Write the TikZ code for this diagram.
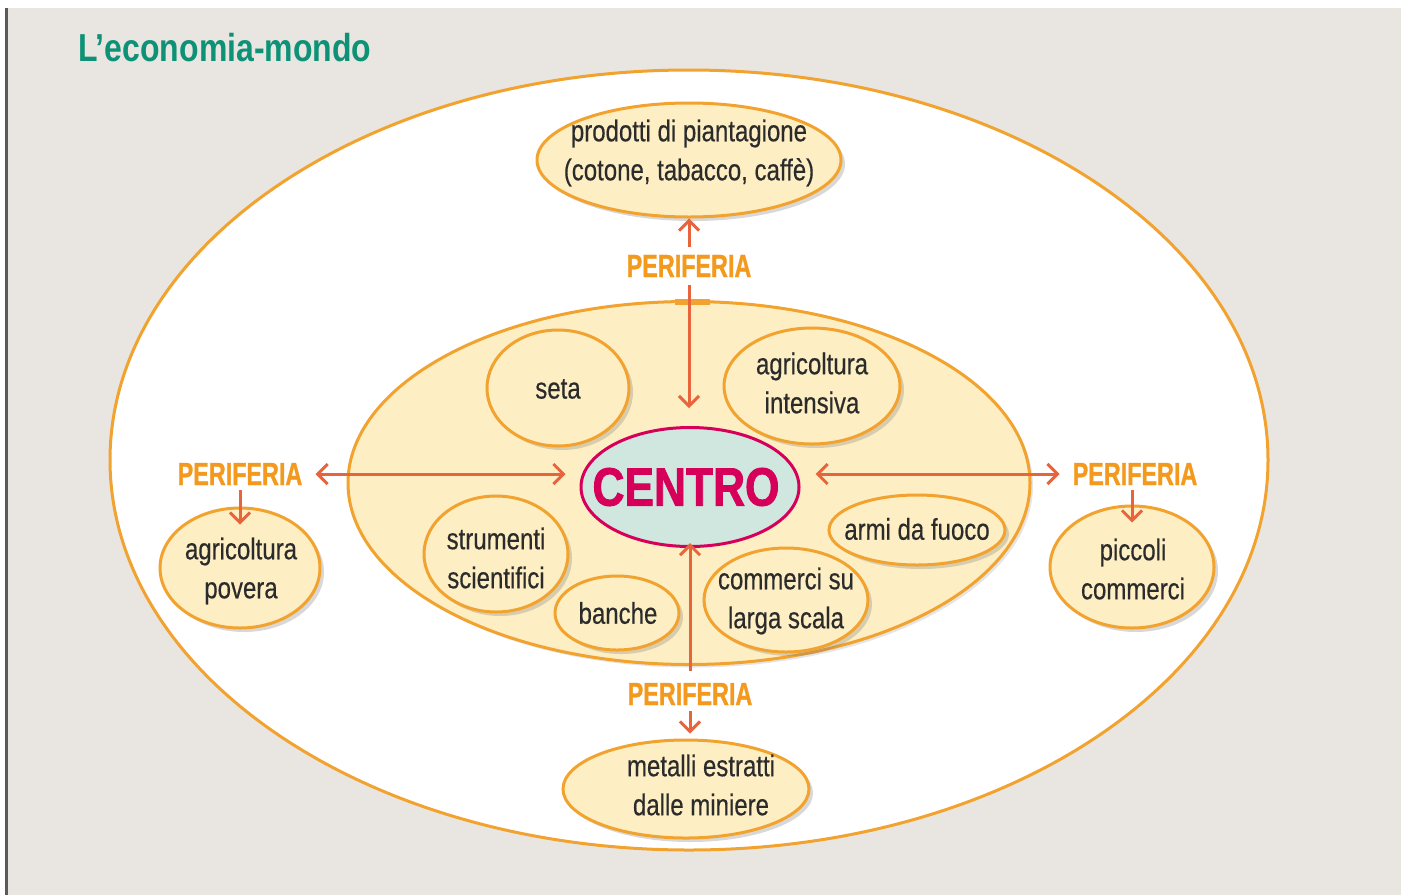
\documentclass[tikz,border=0pt]{standalone}
\usepackage{fontspec}
\setmainfont{Liberation Sans}
\newfontfamily\condf[FakeStretch=0.8,FakeBold=0.4]{Liberation Sans}
\newfontfamily\perf[FakeStretch=0.73,FakeBold=1]{Liberation Sans Bold}
\newfontfamily\titf[FakeStretch=0.82]{Liberation Sans Bold}
\newfontfamily\cenf[FakeStretch=0.82,FakeBold=1.5]{Liberation Sans Bold}
\usetikzlibrary{shapes.geometric,shadows,arrows.meta}
\definecolor{panelgrey}{HTML}{E9E6E1}
\definecolor{edgegrey}{HTML}{5A5A5A}
\definecolor{ringorange}{HTML}{F2A22E}
\definecolor{paleyellow}{HTML}{FDEFC3}
\definecolor{arrowred}{HTML}{E8643C}
\definecolor{perorange}{HTML}{F39A1E}
\definecolor{centrored}{HTML}{D6005A}
\definecolor{centrofill}{HTML}{CFE7DF}
\definecolor{titlegreen}{HTML}{0E9277}
\definecolor{textdark}{HTML}{2B2B2B}
\tikzset{
  bubble/.style={ellipse, draw=ringorange, line width=3pt, fill=paleyellow, inner sep=0pt,
    drop shadow={opacity=0.3, shadow xshift=4pt, shadow yshift=-4pt}},
  btext/.style={align=center, text=textdark, font=\condf\fontsize{30}{39}\selectfont, inner sep=0pt},
  perlabel/.style={text=perorange, font=\perf\fontsize{32}{32}\selectfont, inner sep=0pt},
  arr/.style={draw=arrowred, line width=3pt, -{Straight Barb[length=10pt,width=20pt,line width=3pt]}},
  darr/.style={draw=arrowred, line width=3pt, {Straight Barb[length=10pt,width=20pt,line width=3pt]}-{Straight Barb[length=10pt,width=20pt,line width=3pt]}}
}
\begin{document}
\begin{tikzpicture}[x=1pt,y=-1pt]
\useasboundingbox (0,0) rectangle (1405,895);
\fill[white] (0,0) rectangle (1405,895);
\fill[panelgrey] (7,8) rectangle (1401,895);
\fill[edgegrey] (5,8) rectangle (8,895);
\node[anchor=west, text=titlegreen, font=\titf\fontsize{39}{39}\selectfont, inner sep=0pt] (title) at (78,48) {L’economia-mondo};
% outer and inner rings
\node[ellipse, draw=ringorange, line width=3pt, fill=white, minimum width=1158pt, minimum height=780pt, inner sep=0pt] (outer) at (689,460) {};
\node[ellipse, draw=ringorange, line width=3pt, fill=paleyellow, minimum width=682pt, minimum height=363pt, inner sep=0pt,
  drop shadow={opacity=0.2, shadow xshift=3pt, shadow yshift=-3pt}] (inner) at (689,483) {};
\fill[ringorange] (675,299) rectangle (710,305);
% bubbles
\node[bubble, minimum width=304pt, minimum height=114pt] (prod) at (689,160) {};
\node[btext] (prodT) at (689,153) {prodotti di piantagione\\(cotone, tabacco, caffè)};
\node[bubble, minimum width=142pt, minimum height=116pt] (seta) at (558,388) {};
\node[btext] (setaT) at (558,389) {seta};
\node[bubble, minimum width=176pt, minimum height=116pt] (agri) at (812,386) {};
\node[btext] (agriT) at (812,383) {agricoltura\\intensiva};
\node[bubble, minimum width=144pt, minimum height=116pt] (strum) at (496,554) {};
\node[btext] (strumT) at (496,558) {strumenti\\scientifici};
\node[bubble, minimum width=124pt, minimum height=74pt] (banche) at (617,613) {};
\node[btext] (bancheT) at (618,613) {banche};
\node[bubble, minimum width=164pt, minimum height=104pt] (comm) at (786,600) {};
\node[btext] (commT) at (786,601) {commerci su\\larga scala};
\node[bubble, minimum width=176pt, minimum height=70pt] (armi) at (917,530) {};
\node[btext] (armiT) at (917,529) {armi da fuoco};
\node[bubble, minimum width=160pt, minimum height=120pt] (agp) at (240,568) {};
\node[btext] (agpT) at (241,571) {agricoltura\\povera};
\node[bubble, minimum width=164pt, minimum height=122pt] (picc) at (1132,567) {};
\node[btext] (piccT) at (1133,569) {piccoli\\commerci};
\node[bubble, minimum width=246pt, minimum height=98pt] (met) at (686,789) {};
\node[btext] (metT) at (701,785) {metalli estratti\\dalle miniere};
% centre
\node[ellipse, draw=centrored, line width=3pt, fill=centrofill, minimum width=218pt, minimum height=119pt, inner sep=0pt] (centro) at (690,487) {};
\node[text=centrored, font=\cenf\fontsize{54}{54}\selectfont, inner sep=0pt] (centroT) at (686,487) {CENTRO};
% PERIFERIA labels
\node[perlabel] (pt) at (689,266) {PERIFERIA};
\node[perlabel] (pl) at (240,474) {PERIFERIA};
\node[perlabel] (pr) at (1135,474) {PERIFERIA};
\node[perlabel] (pb) at (690,694) {PERIFERIA};
% connectors
\draw[arr, shorten <=8pt] (pt) -- (prod);
\draw[arr, shorten <=8pt, shorten >=18pt] (pt) -- (pt |- centro.north);
\draw[darr, shorten <=13pt, shorten >=14pt] (pl.east) -- (pl.east -| centro.west);
\draw[darr, shorten <=15pt, shorten >=13pt] (pr.west -| centro.east) -- (pr.west);
\draw[arr, shorten <=5pt, shorten >=-18pt] (pl.south) -- (pl.south |- agp.north);
\draw[arr, shorten <=5pt, shorten >=-18pt] (pr.south -| picc.north) -- (picc.north);
\draw[arr, shorten <=12pt, shorten >=-5pt] (pb) -- (pb |- centro.south);
\draw[arr, shorten <=6pt, shorten >=5pt] (pb) -- (pb |- met.north);
\end{tikzpicture}
\end{document}
